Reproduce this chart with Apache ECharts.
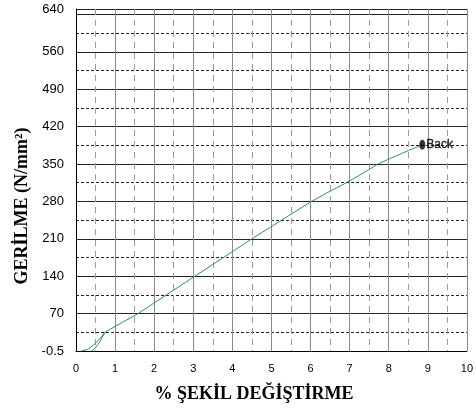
<!DOCTYPE html>
<html><head><meta charset="utf-8">
<script src="https://cdn.jsdelivr.net/npm/echarts@6/dist/echarts.min.js"></script>
<style>html,body{margin:0;padding:0;background:#fff}#c{width:476px;height:412px}</style>
</head><body><div id="c"></div>
<script>
// Data (strain %, stress N/mm^2)
var loadBranchA = [[0.12,-0.5],[0.3,3],[0.48,13],[0.62,24],[0.74,35]];
var loadBranchB = [[0.4,-0.5],[0.47,4],[0.56,12],[0.66,24],[0.74,35]];
var mainCurve = [[0.74,35],[1,46],[1.59,70],[2,90],[2.5,114],[3,138],[3.5,162],[4,186],[4.5,210],[5,233],[5.5,256],[6.03,280],[6.5,299],[6.92,315],[7.3,331],[7.73,350],[8,359],[8.5,375],[8.86,386]];
var breakPoint = [[8.86,386]];
var breakLabel = 'Back';
var yTickLabels = {0:'-0.5',70:'70',140:'140',210:'210',280:'280',350:'350',420:'420',490:'490',560:'560',640:'640'};
var xTitle = '% ŞEKİL DEĞİŞTİRME';
var yTitle = 'GERİLME (N/mm²)';

var teal = '#2b8a8a';
var titleFont = {fontFamily:'Liberation Serif, Times New Roman, serif',fontWeight:'bold',fontSize:18,fill:'#000'};
var chart = echarts.init(document.getElementById('c'));
chart.setOption({
  animation:false,
  grid:{left:76,right:7,top:9,bottom:61,containLabel:false},
  graphic:[
    {type:'text',x:254,y:394,style:Object.assign({text:xTitle,align:'center',verticalAlign:'middle'},titleFont)},
    {type:'text',x:22,y:206,rotation:Math.PI/2,style:Object.assign({text:yTitle,align:'center',verticalAlign:'middle'},titleFont)}
  ],
  xAxis:{type:'value',min:0,max:10,interval:1,
    axisLine:{show:true,lineStyle:{color:'#000',width:1}},
    axisTick:{show:false},
    minorTick:{show:false,splitNumber:2},
    axisLabel:{margin:12,color:'#000',fontSize:11,fontFamily:'Liberation Sans Narrow, Arial Narrow, Liberation Sans, sans-serif'},
    splitLine:{show:true,lineStyle:{color:'#8a8a8a',width:1}},
    minorSplitLine:{show:true,lineStyle:{color:'#9a9a9a',width:1,type:[6,5]}}
  },
  yAxis:[{type:'value',min:0,max:640,interval:70,
    axisLine:{show:true,lineStyle:{color:'#000',width:1}},
    axisTick:{show:false},
    axisLabel:{margin:12,color:'#000',fontSize:13,fontFamily:'Liberation Sans, Arial, sans-serif',
      formatter:function(v){return yTickLabels[v]!==undefined?yTickLabels[v]:'';}},
    splitLine:{show:true,lineStyle:{color:'#2a2a2a',width:1}}
  },{type:'value',min:0,max:640,interval:35,position:'left',
    axisLine:{show:false},axisTick:{show:false},axisLabel:{show:false},
    splitLine:{show:true,lineStyle:{color:'#222',width:1,type:[3,2]}}
  }],
  series:[
    {type:'line',data:loadBranchA,showSymbol:false,lineStyle:{color:teal,width:1},z:5},
    {type:'line',data:loadBranchB,showSymbol:false,lineStyle:{color:teal,width:1},z:5},
    {type:'line',data:mainCurve,showSymbol:false,lineStyle:{color:teal,width:1},z:5},
    {type:'scatter',data:breakPoint,symbol:'circle',symbolSize:[6,10],itemStyle:{color:'#000'},z:6,
      label:{show:true,position:'right',distance:1,formatter:breakLabel,color:'#000',fontSize:12,
        textBorderColor:'#000',textBorderWidth:0.4,
        fontFamily:'Liberation Sans Narrow, Liberation Sans, sans-serif'}}
  ]
});
</script></body></html>
